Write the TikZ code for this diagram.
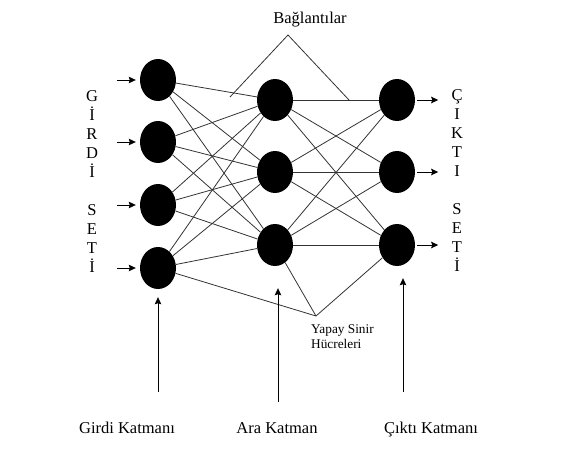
\documentclass[tikz,border=0pt]{standalone}
\usepackage{fontspec}
\setmainfont{Liberation Serif}
\usetikzlibrary{shapes.geometric,arrows.meta}
\begin{document}
\begin{tikzpicture}[x=1pt, y=-1pt, >={Stealth[length=7pt,width=6.5pt,inset=1pt]},
    neuron/.style={ellipse, fill=black, minimum width=36pt, minimum height=42pt, inner sep=0pt},
    link/.style={draw=black!80, line width=0.8pt},
    pfeil/.style={->, draw=black, line width=0.8pt},
    lbl/.style={font=\fontsize{16.5}{19}\selectfont, inner sep=0pt},
    small/.style={font=\fontsize{13.3}{15}\selectfont, inner sep=0pt}]
    \useasboundingbox (0,0) rectangle (571,464);

    % 三层神经元
    \foreach \y [count=\i] in {80,142,205,268} \node[neuron] (i\i) at (158,\y) {};
    \foreach \y [count=\i] in {100,172,245} \node[neuron] (h\i) at (275,\y) {};
    \foreach \y [count=\i] in {100,172,245} \node[neuron] (o\i) at (397,\y) {};

    % 层间连接
    \foreach \i in {1,...,4} \foreach \j in {1,2,3} \draw[link] (i\i) -- (h\j);
    \foreach \i in {1,2,3} \foreach \j in {1,2,3} \draw[link] (h\i) -- (o\j);

    % 输入和输出箭头
    \foreach \i in {1,...,4} {
        \coordinate (ia\i) at ([xshift=-23pt]i\i.west);
        \draw[pfeil, shorten >=4pt] (ia\i) -- (i\i.west);
    }
    \foreach \i in {1,2,3} {
        \coordinate (oa\i) at ([xshift=23pt]o\i.east);
        \draw[pfeil, shorten <=2pt] (o\i.east) -- (oa\i);
    }

    % 两侧竖排文字
    \node[lbl, align=center] (gset) at (92,182) {G\\İ\\R\\D\\İ\\[19pt]S\\E\\T\\İ};
    \node[lbl, align=center] (cset) at (457,181) {Ç\\I\\K\\T\\I\\[19pt]S\\E\\T\\İ};

    % 连接标注
    \node[lbl] (bag) at (310,20) {Bağlantılar};
    \coordinate (bt) at (288,35);
    \coordinate (b1) at (230,97);
    \coordinate (b2) at (349,100);
    \draw[link] (b1) -- (bt) -- (b2);

    % 神经元标注
    \coordinate (yt) at (316,316);
    \draw[link] (i4) -- (yt) -- (o3);
    \draw[link] (h3) -- (yt);
    \node[small, align=left, anchor=north west] (ysh) at (311,324) {Yapay Sinir\\Hücreleri};

    % 层名称和竖直箭头
    \node[lbl, anchor=base] (gk) at (127,433) {Girdi Katmanı};
    \node[lbl, anchor=base] (ak) at (277,433) {Ara Katman};
    \node[lbl, anchor=base] (ck) at (431,433) {Çıktı Katmanı};
    \coordinate (ga) at (158,392);
    \coordinate (aa) at (278,402);
    \coordinate (ca) at (403,392);
    \draw[pfeil] (ga) -- ([yshift=-8pt]i4.south);
    \draw[pfeil] (aa) -- ([xshift=3pt, yshift=-22pt]h3.south);
    \draw[pfeil] (ca) -- ([xshift=6pt, yshift=-12pt]o3.south);
\end{tikzpicture}
\end{document}
